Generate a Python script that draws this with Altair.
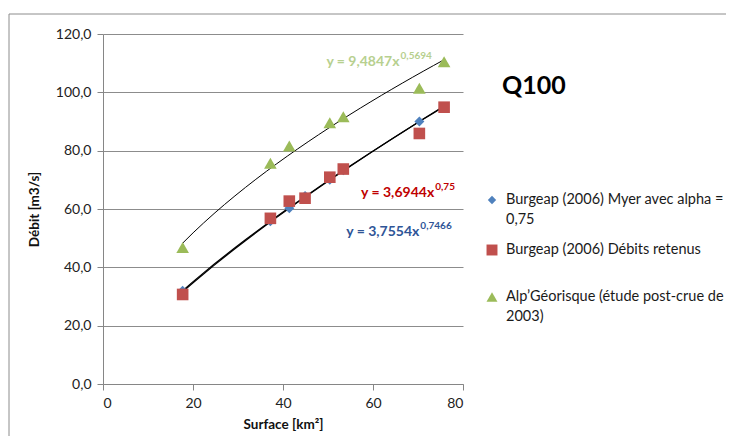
import altair as alt
import pandas as pd

# ---- data ----
surface = [17.7, 37.2, 41.4, 44.9, 50.4, 53.4, 70.3, 75.8]
myer = [32.0, 55.8, 60.3, 64.5, 70.0, 73.3, 90.0, 95.0]
retenus = [30.7, 56.8, 62.7, 63.7, 70.9, 73.7, 85.9, 94.9]
surface_alp = [17.7, 37.2, 41.4, 50.4, 53.4, 70.3, 75.8]
alp = [46.8, 75.7, 81.6, 89.6, 91.6, 101.4, 110.5]

names = ["Burgeap (2006) Myer avec alpha = 0,75",
         "Burgeap (2006) Débits retenus",
         "Alp\u2019Géorisque (étude post-crue de 2003)"]
colors = ["#4f81bd", "#c0504d", "#9bbb59"]
shapes = ["diamond", "square", "triangle-up"]

eq_main = ["y = 3,7554x", "y = 3,6944x", "y = 9,4847x"]
eq_exp = ["0,7466", "0,75", "0,5694"]
eq_color = ["#2f5597", "#c00000", "#b7d08f"]
eq_x = [70.3, 73.6, 65.9]
eq_y = [52.0, 65.4, 110.5]

FONT = "Lato"

rows = []
for x, y in zip(surface, myer):
    rows.append({"x": x, "y": y, "s": names[0]})
for x, y in zip(surface, retenus):
    rows.append({"x": x, "y": y, "s": names[1]})
for x, y in zip(surface_alp, alp):
    rows.append({"x": x, "y": y, "s": names[2]})
df = pd.DataFrame(rows)

xs = alt.Scale(domain=[0, 80])
ys = alt.Scale(domain=[0, 120])

X = alt.X("x:Q", scale=xs, title="Surface [km²]",
          axis=alt.Axis(values=[0, 20, 40, 60, 80], grid=False, tickSize=6,
                        labelPadding=6, titlePadding=7))
Y = alt.Y("y:Q", scale=ys, title="Débit [m3/s]",
          axis=alt.Axis(values=[0, 20, 40, 60, 80, 100, 120], grid=True, tickSize=6,
                        labelExpr="replace(format(datum.value, '.1f'), '.', ',')",
                        labelPadding=6, titlePadding=14))

frame = alt.Chart(pd.DataFrame({"a": [0]})).mark_rect(
    fill=None, stroke="#8c8c8c", strokeWidth=1
).encode(x=alt.value(-94), x2=alt.value(640), y=alt.value(-20), y2=alt.value(420))

def trend(name, w):
    return alt.Chart(df[df.s == name]).transform_regression(
        "x", "y", method="pow"
    ).mark_line(color="black", strokeWidth=w).encode(x=X, y=Y)

trend_green = trend(names[2], 1)
trend_blue = trend(names[0], 1.2)
trend_red = trend(names[1], 1.2)

pts = []
sizes = [100, 135, 160]
for i in range(3):
    pts.append(
        alt.Chart(df[df.s == names[i]]).mark_point(
            shape=shapes[i], filled=True, fill=colors[i], opacity=1, size=sizes[i], strokeWidth=0
        ).encode(x=X, y=Y)
    )

eqdf = pd.DataFrame({"x": eq_x, "y": eq_y, "m": eq_main, "e": eq_exp, "c": eq_color})
eq_texts = []
for i in range(3):
    d = eqdf.iloc[[i]]
    eq_texts.append(alt.Chart(d).mark_text(
        align="right", baseline="middle", font=FONT, fontSize=14, fontWeight="bold",
        color=eq_color[i]).encode(x=alt.X("x:Q", scale=xs), y=alt.Y("y:Q", scale=ys), text="m:N"))
    eq_texts.append(alt.Chart(d).mark_text(
        align="left", baseline="middle", font=FONT, fontSize=10, fontWeight="bold",
        dx=1, dy=-6, color=eq_color[i]).encode(x=alt.X("x:Q", scale=xs), y=alt.Y("y:Q", scale=ys), text="e:N"))

title = alt.Chart(pd.DataFrame({"t": ["Q100"]})).mark_text(
    align="left", baseline="middle", font=FONT, fontSize=25, fontWeight="bold", color="black"
).encode(x=alt.value(399), y=alt.value(52), text="t:N")

# legend drawn manually (multi-line labels)
leg_sym_x = 389
leg_txt_x = 403
leg_rows = [(166, ["Burgeap (2006) Myer avec alpha =", "0,75"]),
            (216, ["Burgeap (2006) Débits retenus"]),
            (263, ["Alp\u2019Géorisque (étude post-crue de", "2003)"])]
leg_sizes = [70, 120, 120]
legend_layers = []
for i, (yy, lines) in enumerate(leg_rows):
    legend_layers.append(alt.Chart(pd.DataFrame({"a": [0]})).mark_point(
        shape=shapes[i], filled=True, fill=colors[i], opacity=1, size=leg_sizes[i], strokeWidth=0
    ).encode(x=alt.value(leg_sym_x), y=alt.value(yy)))
    for j, line in enumerate(lines):
        legend_layers.append(alt.Chart(pd.DataFrame({"t": [line]})).mark_text(
            align="left", baseline="middle", font=FONT, fontSize=14.5, color="#1a1a1a"
        ).encode(x=alt.value(leg_txt_x), y=alt.value(yy + 20 * j), text="t:N"))

chart = alt.layer(
    frame, trend_green, trend_blue, trend_red, pts[0], pts[1], pts[2],
    *eq_texts, title, *legend_layers
).properties(
    width=360, height=350,
    autosize=alt.AutoSizeParams(type="none"),
    padding={"left": 95, "top": 26, "right": 263, "bottom": 52},
).configure_view(stroke=None).configure_axis(
    labelFont=FONT, titleFont=FONT, labelFontSize=14, titleFontSize=13.5,
    titleFontWeight="bold", labelColor="#222222", titleColor="#111111",
    domainColor="#868686", tickColor="#868686", gridColor="#8c8c8c", gridWidth=1,
    domainWidth=1,
)

chart.save("out.html", embed_options={"renderer": "svg", "actions": False})
